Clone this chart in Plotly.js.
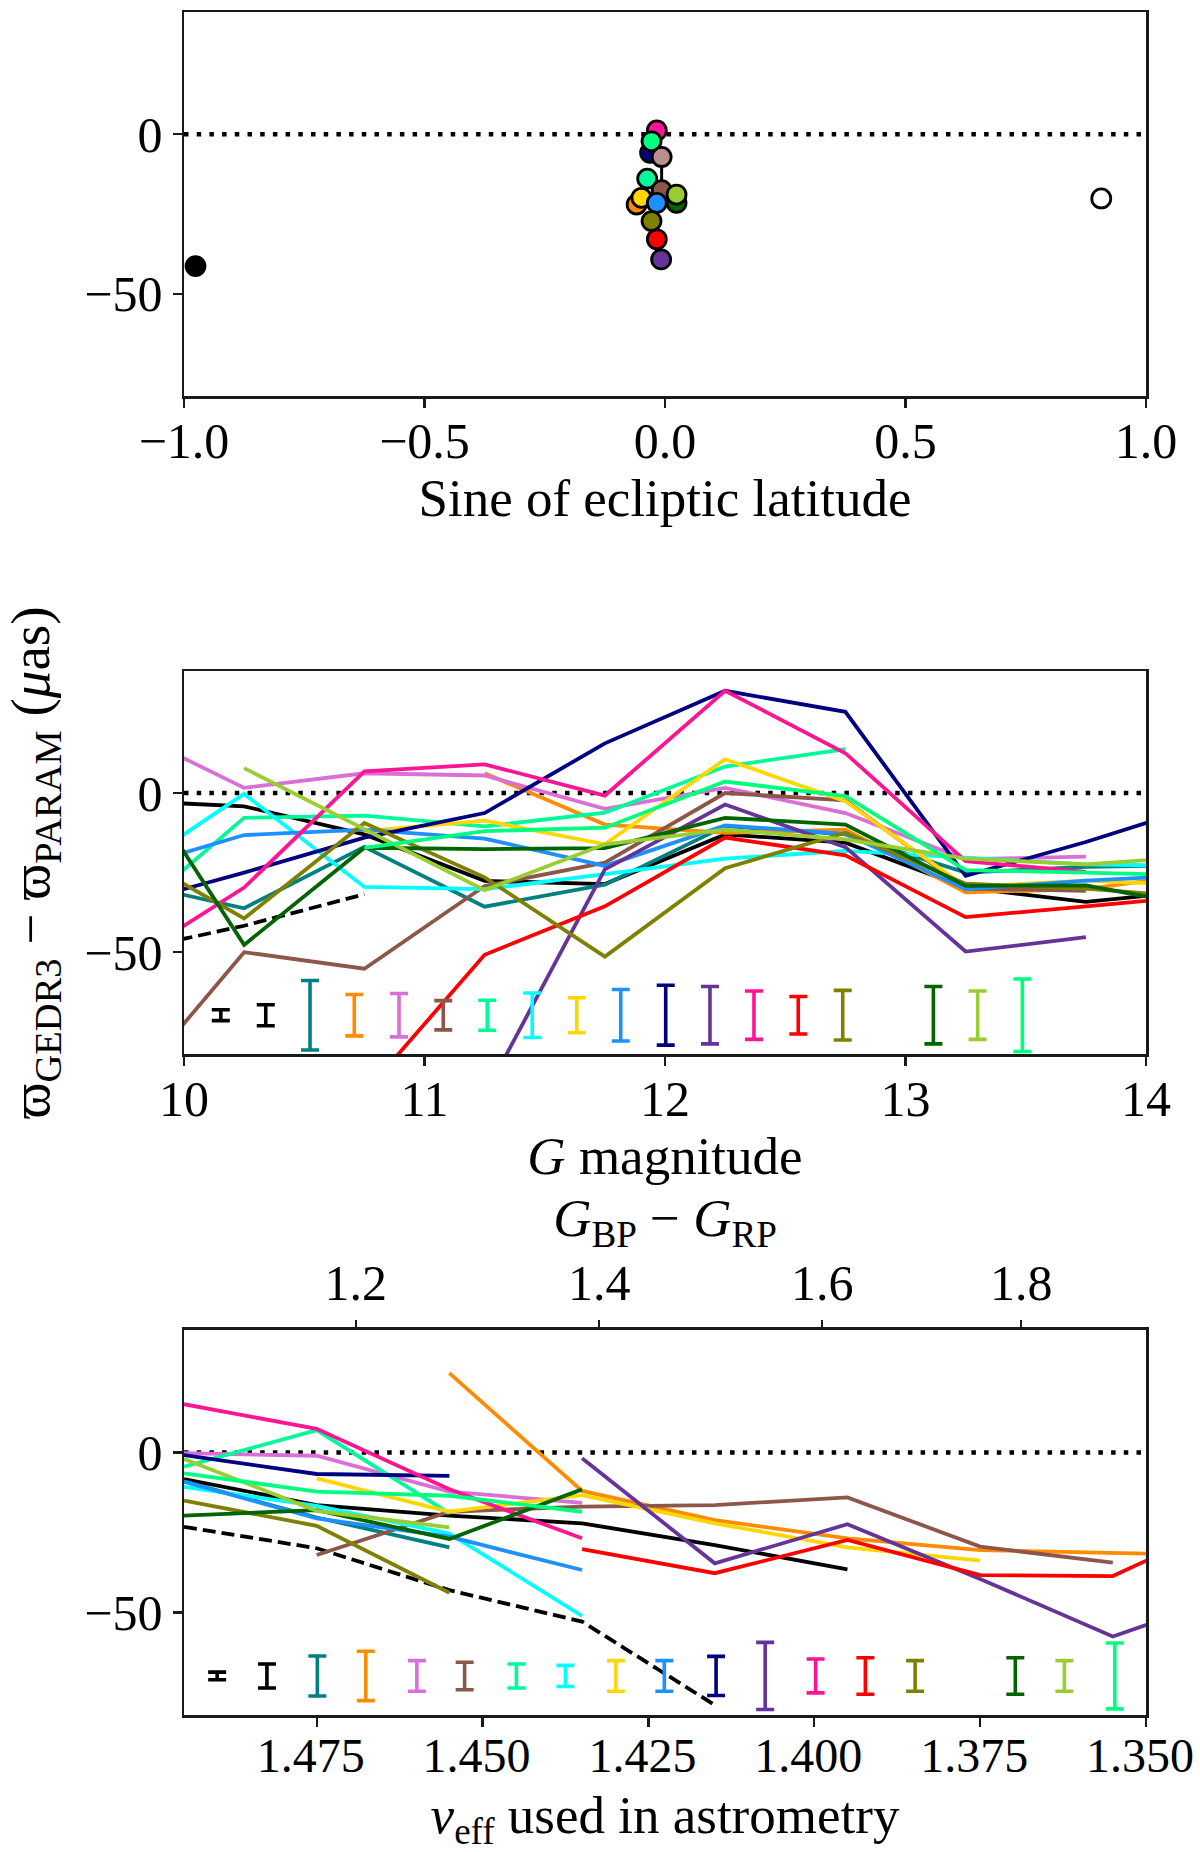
<!DOCTYPE html>
<html>
<head>
<meta charset="utf-8">
<script src="https://cdn.plot.ly/plotly-3.0.1.min.js"></script>
<style>html,body{margin:0;padding:0;background:#fff;} #chart{width:1200px;height:1852px;}</style>
</head>
<body>
<div id="chart"></div>
<script>
// ---------- DATA ----------
// series order (matches the error-bar row order)
const seriesColors = ['#000000','#000000','#008080','#FF8C00','#DA70D6','#8C564B','#00FA9A','#00FFFF','#FFD700','#1E90FF','#000080','#663399','#FF1493','#FF0000','#808000','#006400','#9ACD32','#00FF7F'];
const seriesDash   = ['dash','solid','solid','solid','solid','solid','solid','solid','solid','solid','solid','solid','solid','solid','solid','solid','solid','solid'];

// Panel 1: sine of ecliptic latitude
const sinBeta  = [-0.976, 0.907, -0.017, -0.031, -0.028, -0.007, -0.037, -0.007, -0.059, -0.049, 0.024, 0.024, -0.017, -0.028, -0.017, -0.008];
const p1Offset = [-41.3, -20.1, 1.2, -5.8, -2.2, -7.1, -13.9, -17.5, -22.0, -19.9, -21.5, -18.9, -21.5, -27.2, -32.9, -39.2];
const p1Colors = ['#000000','#FFFFFF','#FF1493','#000080','#00FF7F','#BC8F8F','#00FA9A','#8C564B','#FF8C00','#FFD700','#006400','#9ACD32','#1E90FF','#808000','#FF0000','#663399'];
const p1LinkX  = [-0.007, -0.007];
const p1LinkY  = [-7.1, -17.5];
const sinTicks = [-1, -0.5, 0, 0.5, 1];

// Panel 2: G magnitude bins
const gMag = [9.75, 10.25, 10.75, 11.25, 11.75, 12.25, 12.75, 13.25, 13.75, 14.25];
const gDashed      = [-49.9, -41.7, -31.8, null, null, null, null, null, null, null];
const gBlack       = [-2.4, -4.2, -13.0, -27.6, -28.6, -13.0, -15.6, -29.7, -34.2, -30.4];
const gTeal        = [-27.8, -36.2, -16.9, -35.7, -28.8, -10.4, -13.0, -25.0, -23.2, -22.6];
const gOrange      = [null, null, null, 6.2, -9.9, -12.5, -11.5, -31.2, -30.2, -25.0];
const gOrchid      = [20.2, 1.6, 6.2, 5.5, -5.0, 1.6, -6.3, -20.8, -20.0, null];
const gBrown       = [-94.8, -50.0, -55.2, -29.2, -21.9, 0.0, -2.3, -30.0, -30.7, null];
const gSpringA     = [-40.2, -7.8, -7.1, -10.5, -6.2, 8.3, 13.8, null, null, null];
const gCyan        = [-25.7, -0.3, -29.5, -30.2, -25.5, -20.6, -18.2, -20.3, -22.4, -23.0];
const gGold        = [null, null, -12.0, -8.7, -16.1, 10.6, -2.6, -29.5, -27.5, -29.1];
const gDodger      = [-24.3, -13.2, -11.5, -14.3, -22.9, -10.2, -12.8, -30.2, -27.5, -25.7];
const gNavy        = [-35.4, -25.0, -14.0, -6.3, 15.6, 32.1, 25.5, -26.0, -15.4, -3.4];
const gPurple      = [null, null, null, -95.0, -24.0, -3.6, -17.0, -49.8, -45.3, null];
const gPink        = [-53.7, -29.7, 6.8, 9.0, -0.8, 32.1, 12.5, -21.4, -24.8, null];
const gRed         = [null, null, -94.3, -50.8, -35.6, -14.0, -19.6, -39.0, -35.6, -32.2];
const gOlive       = [-17.8, -39.4, -9.4, -26.5, -51.4, -23.6, -12.5, -28.5, -30.0, -33.0];
const gDarkGreen   = [10.7, -47.7, -17.2, -17.6, -17.3, -7.8, -9.9, -29.2, -29.0, -36.0];
const gYellowGreen = [null, 7.8, -11.5, -30.5, -16.1, -11.5, -14.6, -20.6, -22.4, -19.8];
const gSpringB     = [null, null, -17.2, -12.0, -10.9, 3.6, -1.0, -24.2, -25.0, -26.0];
const gSeries = [gDashed, gBlack, gTeal, gOrange, gOrchid, gBrown, gSpringA, gCyan, gGold, gDodger, gNavy, gPurple, gPink, gRed, gOlive, gDarkGreen, gYellowGreen, gSpringB];
const gTicks = [10, 11, 12, 13, 14];
// typical uncertainties (error-bar row)
const gErrX    = [10.153, 10.34, 10.524, 10.708, 10.894, 11.078, 11.261, 11.448, 11.633, 11.816, 12.003, 12.187, 12.37, 12.554, 12.739, 13.116, 13.30, 13.486];
const gErrHalf = [1.7, 3.3, 10.9, 6.5, 6.8, 4.6, 4.7, 7.0, 5.5, 8.1, 9.4, 9.0, 7.6, 5.9, 7.8, 9.0, 7.6, 11.4];

// Panel 3: nu_eff bins
const nuEff = [1.495, 1.475, 1.455, 1.435, 1.415, 1.395, 1.375, 1.355, 1.335];
const nDashed      = [-23.2, -29.9, -43.0, -52.8, -78.9, null, null, null, null];
const nBlack       = [-8.3, -16.4, -19.7, -22.1, -28.9, -36.5, null, null, null];
const nTeal        = [-9.0, -20.3, -29.6, null, null, null, null, null, null];
const nOrange      = [null, null, 24.8, -12.0, -21.1, -26.8, -30.5, -31.5, -32.2];
const nOrchid      = [-0.2, -1.0, -12.2, -15.7, null, null, null, null, null];
const nBrown       = [null, -32.0, -18.5, -16.9, -16.4, -14.0, -29.4, -34.4, null];
const nSpringA     = [-4.4, 7.0, -19.0, null, null, null, null, null, null];
const nCyan        = [-10.7, -16.7, -25.3, -51.0, null, null, null, null, null];
const nGold        = [null, -8.1, -18.5, -13.3, -22.1, -29.6, -33.8, null, null];
const nDodger      = [-9.1, -20.6, -26.3, -36.7, null, null, null, null, null];
const nNavy        = [-0.8, -6.7, -7.3, null, null, null, null, null, null];
const nPurple      = [null, null, null, -1.8, -34.6, -22.4, -39.5, -57.5, -43.0];
const nPink        = [15.1, 7.4, -11.5, -26.8, null, null, null, null, null];
const nRed         = [null, null, null, -30.2, -37.7, -27.3, -38.3, -38.6, -19.4];
const nOlive       = [-15.0, -22.9, -43.8, null, null, null, null, null, null];
const nDarkGreen   = [-19.7, -18.0, -27.0, -11.5, null, null, null, null, null];
const nYellowGreen = [-2.0, -18.2, -23.4, null, null, null, null, null, null];
const nSpringB     = [-6.5, -12.2, -13.5, -18.5, null, null, null, null, null];
const nSeries = [nDashed, nBlack, nTeal, nOrange, nOrchid, nBrown, nSpringA, nCyan, nGold, nDodger, nNavy, nPurple, nPink, nRed, nOlive, nDarkGreen, nYellowGreen, nSpringB];
const nuTicks = [1.475, 1.450, 1.425, 1.400, 1.375, 1.350];
const nErrX    = [1.490, 1.4825, 1.4749, 1.4676, 1.4599, 1.4527, 1.4449, 1.4375, 1.4299, 1.4226, 1.4148, 1.4074, 1.3998, 1.3923, 1.3848, 1.3697, 1.3623, 1.3547];
const nErrHalf = [1.2, 3.75, 6.25, 7.7, 4.8, 4.3, 3.75, 3.3, 4.8, 4.8, 6.1, 10.5, 5.3, 5.7, 4.8, 5.7, 4.8, 10.3];
// colour axis (top of panel 3): nu_eff positions of the BP-RP ticks
const colorTickVals = [1.4691, 1.4324, 1.3988, 1.3688];
const colorTickText = ['1.2', '1.4', '1.6', '1.8'];

const errCenter = -69.8;
const yRange = [-82, 38.3];

// ---------- TRACES ----------
const F = 'Liberation Serif, DejaVu Serif, serif';
const traces = [];
const LW = 3.8;

function dashStyle(d){ return d === 'dash' ? '13px,6px' : 'solid'; }

// panel 1
traces.push({x: p1LinkX, y: p1LinkY, xaxis:'x', yaxis:'y', mode:'lines', line:{color:'#000', width:3}, hoverinfo:'skip', showlegend:false});
traces.push({x: sinBeta, y: p1Offset, xaxis:'x', yaxis:'y', mode:'markers',
  marker:{size:19, color:p1Colors, line:{color:'#000', width:2.8}}, showlegend:false, cliponaxis:false});

// panel 2 lines
gSeries.forEach((s, i) => {
  traces.push({x: gMag, y: s, xaxis:'x2', yaxis:'y2', mode:'lines',
    line:{color: seriesColors[i], width: LW, dash: dashStyle(seriesDash[i])}, showlegend:false, hoverinfo:'skip'});
});
// panel 2 error bars
gErrX.forEach((xv, i) => {
  traces.push({x:[xv], y:[errCenter], xaxis:'x2', yaxis:'y2', mode:'markers', marker:{size:1, color:'rgba(0,0,0,0)'},
    error_y:{type:'data', array:[gErrHalf[i]], visible:true, color:seriesColors[i], thickness:3.6, width:9}, showlegend:false, hoverinfo:'skip'});
});

// panel 3 lines
nSeries.forEach((s, i) => {
  traces.push({x: nuEff, y: s, xaxis:'x3', yaxis:'y3', mode:'lines',
    line:{color: seriesColors[i], width: LW, dash: dashStyle(seriesDash[i])}, showlegend:false, hoverinfo:'skip'});
});
// panel 3 error bars
nErrX.forEach((xv, i) => {
  traces.push({x:[xv], y:[errCenter], xaxis:'x3', yaxis:'y3', mode:'markers', marker:{size:1, color:'rgba(0,0,0,0)'},
    error_y:{type:'data', array:[nErrHalf[i]], visible:true, color:seriesColors[i], thickness:3.6, width:9}, showlegend:false, hoverinfo:'skip'});
});
// trace that activates the top colour axis
traces.push({x:[nuEff[0]], y:[null], xaxis:'x4', yaxis:'y3', mode:'markers', showlegend:false, hoverinfo:'skip'});

// ---------- LAYOUT ----------
const axisBase = {showline:true, linecolor:'#1a1a1a', linewidth:2.5, mirror:true, ticks:'outside', ticklen:9, tickwidth:2.2,
  tickcolor:'#1a1a1a', showgrid:false, zeroline:false, ticklabeloverflow:'allow',
  tickfont:{family:F, size:50, color:'#000'}};
const titleFont = {family:F, size:53, color:'#000'};

function zeroLine(yref){
  return {type:'line', xref: yref.replace('y','x') + ' domain', x0:0, x1:1, yref:yref, y0:0, y1:0, layer:'below',
    line:{color:'#000', width:4.5, dash:'4.5px,8.2px'}};
}

const layout = {
  width:1200, height:1852,
  margin:{l:184, r:54, t:12, b:137},
  paper_bgcolor:'#fff', plot_bgcolor:'#fff',
  font:{family:F, color:'#000'},
  showlegend:false,
  xaxis: Object.assign({}, axisBase, {domain:[0,1], anchor:'y', range:[-1,1], tickvals:sinTicks, tickformat:'.1f', ticklabelstandoff:-10,
    title:{text:'Sine of ecliptic latitude', font:titleFont, standoff:9}}),
  yaxis: Object.assign({}, axisBase, {domain:[0.7745,1], anchor:'x', range:yRange, tickvals:[0,-50]}),
  xaxis2: Object.assign({}, axisBase, {domain:[0,1], anchor:'y2', range:[10,14], tickvals:gTicks, ticklabelstandoff:-10,
    title:{text:'<i>G</i> magnitude', font:titleFont, standoff:9}}),
  yaxis2: Object.assign({}, axisBase, {domain:[0.3881,0.6130], anchor:'x2', range:yRange, tickvals:[0,-50],
    title:{text:'ϖ<sub>GEDR3</sub> − ϖ<sub>PARAM</sub> (<i>μ</i>as)', font:{family:F, size:55, color:'#000'}, standoff:18}}),
  xaxis3: Object.assign({}, axisBase, {domain:[0,1], anchor:'y3', range:[1.495,1.35], tickvals:nuTicks, tickformat:'.3f', ticklabelstandoff:-12,
    ticklabelshift:6, tickfont:{family:F, size:48, color:'#000'},
    title:{text:'<i>ν</i><sub>eff</sub> used in astrometry', font:titleFont, standoff:20}}),
  xaxis4: Object.assign({}, axisBase, {overlaying:'x3', side:'top', anchor:'y3', range:[1.495,1.35], showline:false, mirror:false,
    tickvals:colorTickVals, ticktext:colorTickText,
    title:{text:'<i>G</i><sub>BP</sub> − <i>G</i><sub>RP</sub>', font:titleFont, standoff:0}}),
  yaxis3: Object.assign({}, axisBase, {domain:[0,0.2261], anchor:'x3', range:yRange, tickvals:[0,-50]}),
  shapes:[zeroLine('y'), zeroLine('y2'), zeroLine('y3')]
};

Plotly.newPlot('chart', traces, layout, {staticPlot:true, displayModeBar:false});
</script>
</body>
</html>
